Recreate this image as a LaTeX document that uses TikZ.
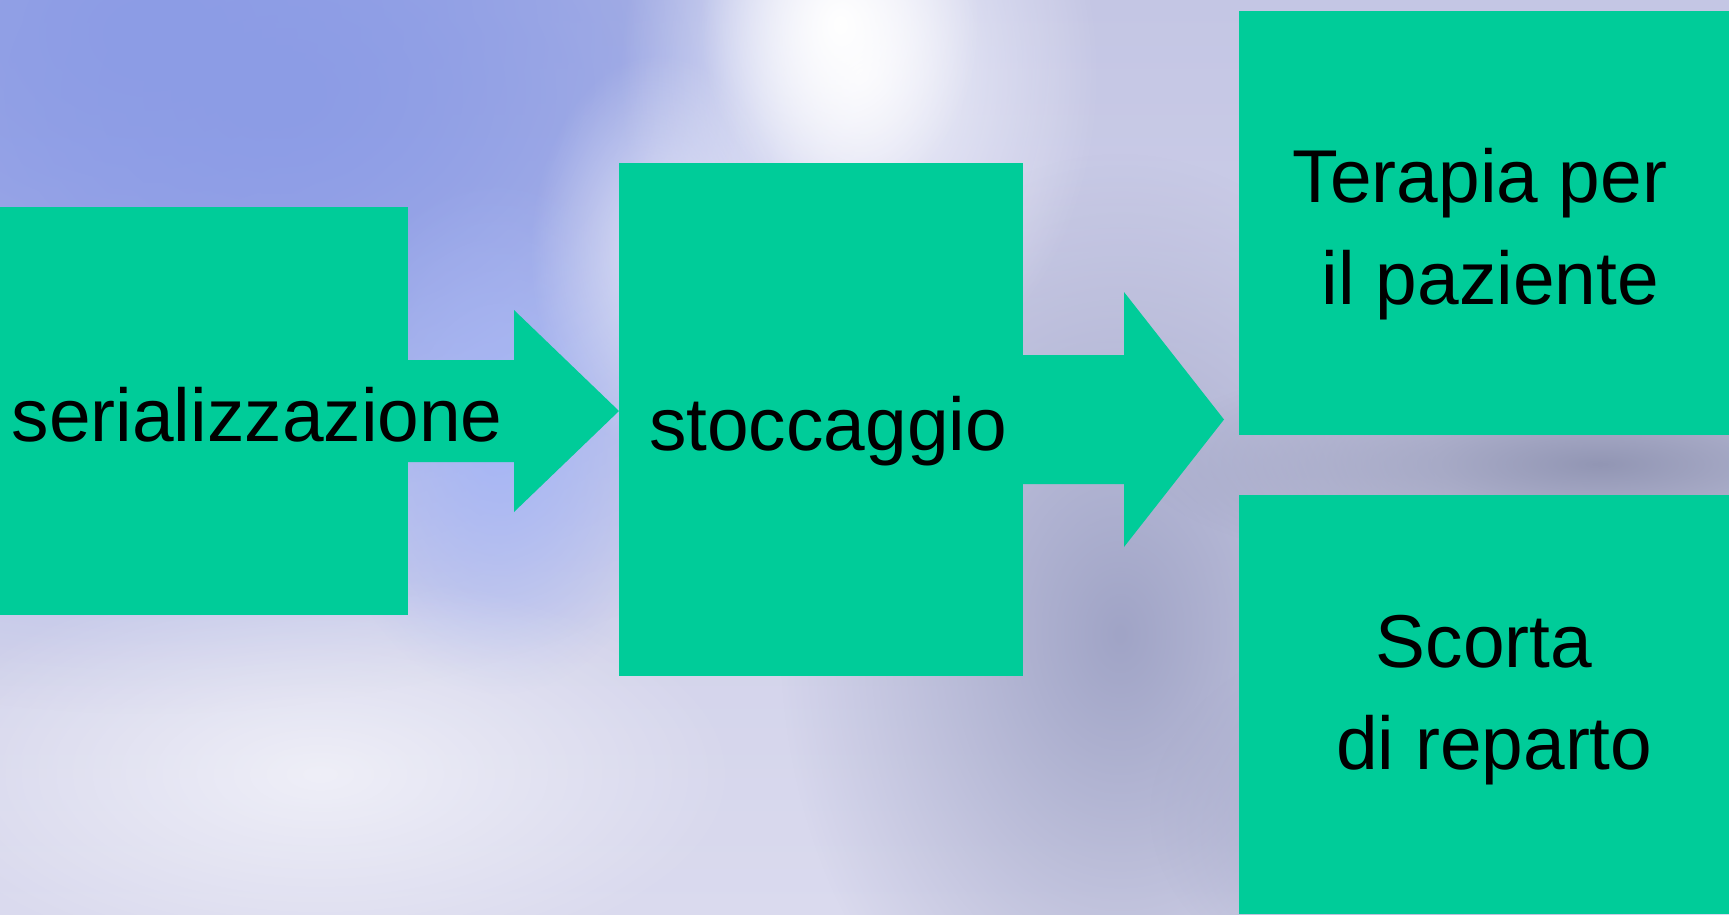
\documentclass[tikz,border=0pt]{standalone}
\usepackage{fontspec}
\setmainfont{Liberation Sans}
\usetikzlibrary{calc}
\usetikzlibrary{fadings}
\definecolor{boxColor}{RGB}{0,204,153}
\definecolor{skyBlue}{RGB}{140,156,230}
\definecolor{skyLight}{RGB}{166,182,246}
\definecolor{skyPale}{RGB}{218,218,238}
\definecolor{skyLav}{RGB}{196,198,228}
\definecolor{skyGray}{RGB}{160,164,198}
\definecolor{skyDark}{RGB}{146,150,180}
\definecolor{cloudWhite}{RGB}{246,246,252}
\tikzfading[name=softBlob, inner color=transparent!0, outer color=transparent!100]

\begin{document}
\begin{tikzpicture}[x=1cm,y=1cm,
  box/.style={fill=boxColor, inner sep=0pt, outer sep=0pt},
  boxText/.style={font=\fontsize{21.3}{29}\selectfont, inner sep=0pt, align=center},
  blob/.style={path fading=softBlob}]
\newcommand\blockArrow[5]{\fill[boxColor] ($(#1.east)+(0,#3)$) -- ($(#2)+(-#5,#3)$) -- ($(#2)+(-#5,#4)$) -- (#2)
  -- ($(#2)+(-#5,-#4)$) -- ($(#2)+(-#5,-#3)$) -- ($(#1.east)+(0,-#3)$) -- cycle;}
\useasboundingbox (0,0) rectangle (17.29,9.14);

% sky
\shade [top color=skyLav, bottom color=skyPale] (0,0) rectangle (17.29,9.14);
\fill [skyGray, blob] (11.2,2.8) ellipse (3.4 and 4.8);
\fill [skyGray, blob] (14.5,1.0) ellipse (3.0 and 2.0);
\fill [skyBlue, blob] (1.5,8.8) ellipse (9.0 and 6.8);
\fill [skyBlue, blob] (2.8,8.2) ellipse (5.5 and 4.0);
\fill [skyLight, blob] (5.0,4.8) ellipse (1.8 and 2.6);
\fill [cloudWhite, blob] (8.6,8.4) ellipse (2.4 and 3.2);
\fill [white, blob] (8.4,8.9) ellipse (1.4 and 1.8);
\fill [cloudWhite, opacity=0.7, blob] (6.6,6.6) ellipse (1.3 and 2.0);
\fill [skyDark, blob] (16.0,4.5) ellipse (4.6 and 1.2);
\fill [white, opacity=0.6, blob] (3.2,1.4) ellipse (4.2 and 2.0);

% boxes
\node [box, minimum width=4.08cm, minimum height=4.08cm] (seri) at (2.04,5.03) {};
\node [box, minimum width=4.04cm, minimum height=5.13cm] (stock) at (8.21,4.945) {};
\node [box, minimum width=4.90cm, minimum height=4.24cm] (therapy) at (14.84,6.91) {};
\node [box, minimum width=4.90cm, minimum height=4.19cm] (ward) at (14.84,2.095) {};

% arrows
\coordinate (tipA) at (stock.west |- seri.east);
\coordinate (split) at (12.24,4.945);
\blockArrow{seri}{tipA}{0.51}{1.01}{1.05}
\blockArrow{stock}{split}{0.645}{1.275}{1.00}

% texts
\node [boxText, anchor=base west] (seriText) at (0.11,4.73) {serializzazione};
\node [boxText, anchor=base] (stockText) at (8.28,4.64) {stoccaggio};
\node [boxText] (therapyText) at (14.80,6.795) {Terapia per\\\ il paziente};
\node [boxText] (wardText) at (14.84,2.135) {Scorta\\\ di reparto};
\end{tikzpicture}
\end{document}
